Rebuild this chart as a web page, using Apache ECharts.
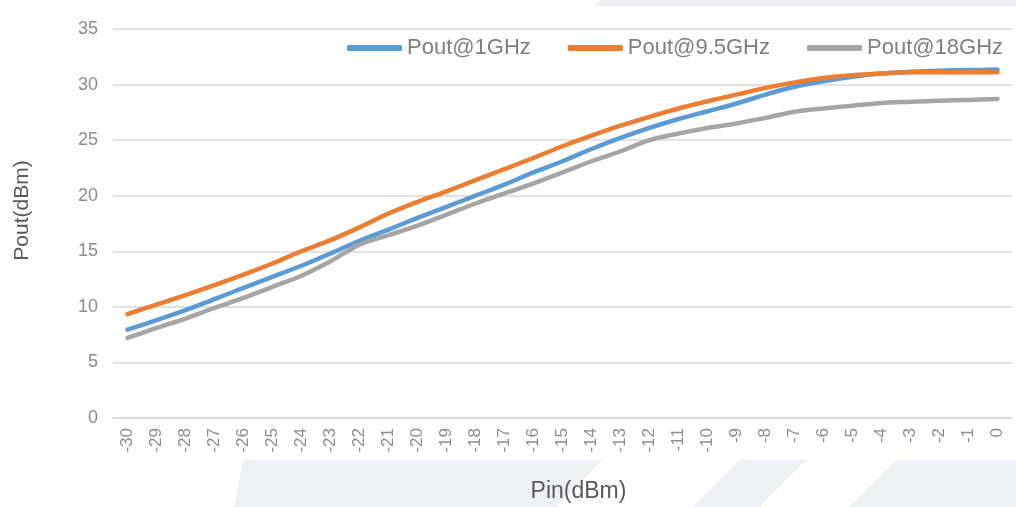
<!DOCTYPE html>
<html>
<head>
<meta charset="utf-8"/>
<title>Pout vs Pin</title>
<script src="https://cdn.jsdelivr.net/npm/echarts@6.0.0/dist/echarts.min.js"></script>
<style>
	html,body{margin:0;padding:0;background:#fff;}
</style>
</head>
	<body>
		<div id="Echarts" style="width: 1016px;height: 507px;"></div>
	</body>
	<script>
		// Pin (dBm)
		var pin = ['-30','-29','-28','-27','-26','-25','-24','-23','-22','-21','-20',
			'-19','-18','-17','-16','-15','-14','-13','-12','-11','-10',
			'-9','-8','-7','-6','-5','-4','-3','-2','-1','0'];
		var yTicks = [0, 5, 10, 15, 20, 25, 30, 35];

		// Pout (dBm)
		var pout1G = [7.95, 8.8, 9.7, 10.7, 11.7, 12.7, 13.7, 14.8, 15.95, 16.95, 18.0,
			19.0, 20.0, 21.0, 22.1, 23.1, 24.2, 25.2, 26.1, 26.9, 27.6,
			28.3, 29.1, 29.8, 30.3, 30.7, 31.0, 31.15, 31.25, 31.3, 31.35];
		var pout9G5 = [9.35, 10.2, 11.05, 11.95, 12.9, 13.9, 15.0, 16.0, 17.15, 18.4, 19.45,
			20.4, 21.4, 22.4, 23.4, 24.45, 25.4, 26.3, 27.1, 27.85, 28.5,
			29.1, 29.7, 30.2, 30.6, 30.85, 31.0, 31.1, 31.1, 31.1, 31.1];
		var pout18G = [7.2, 8.1, 8.95, 9.9, 10.8, 11.8, 12.8, 14.1, 15.6, 16.45, 17.3,
			18.3, 19.3, 20.2, 21.1, 22.1, 23.1, 24.0, 25.0, 25.6, 26.1,
			26.5, 27.0, 27.55, 27.85, 28.1, 28.35, 28.45, 28.55, 28.62, 28.7];

		var names = ['Pout@1GHz', 'Pout@9.5GHz', 'Pout@18GHz'];
		var colors = ['#5b9bd5', '#ed7d31', '#a5a5a5'];
		var font = 'Liberation Sans, Arial, sans-serif';

		function line(name, data, color){
			return {
				name: name,
				type: 'line',
				data: data,
				smooth: 0.3,
				showSymbol: false,
				symbol: 'none',
				color: color,
				lineStyle: {width: 4.5, color: color, cap: 'round', join: 'round'}
			};
		}

		// light watermark bands behind the plot
		var bg = '#eff0f4';
		var bands = [
			[[600,0],[1016,0],[1016,6],[594,6]],
			[[243,460],[603,460],[556,507],[234,507]],
			[[739,460],[807,460],[760,507],[692,507]],
			[[896,460],[1016,460],[1016,507],[849,507]]
		];

		var myChart = echarts.init(document.getElementById('Echarts'));
		myChart.setOption({
			animation: false,
			backgroundColor: '#fff',
			color: colors,
			graphic: bands.map(function(p){
				return {type: 'polygon', z: -10, silent: true, shape: {points: p}, style: {fill: bg}};
			}),
			legend: {
				data: names,
				left: 342,
				top: 32,
				icon: 'roundRect',
				itemWidth: 55,
				itemHeight: 6,
				itemGap: 37,
				textStyle: {fontSize: 22, color: '#7f7f7f', fontFamily: font}
			},
			grid: {
				left: 113,
				right: 4,
				top: 29,
				bottom: 89,
				containLabel: false,
				outerBoundsMode: 'none'
			},
			xAxis: {
				type: 'category',
				data: pin,
				boundaryGap: true,
				name: 'Pin(dBm)',
				nameLocation: 'middle',
				nameGap: 62,
				nameTextStyle: {fontSize: 23, color: '#595959', fontFamily: font, padding: [0, 0, 0, 32]},
				axisLine: {lineStyle: {color: '#d9d9d9', width: 1.5}},
				axisTick: {show: false},
				axisLabel: {
					interval: 0,
					rotate: 90,
					margin: 10,
					fontSize: 17,
					color: '#8c8c8c',
					fontFamily: font
				}
			},
			yAxis: {
				type: 'value',
				min: yTicks[0],
				max: yTicks[yTicks.length - 1],
				interval: 5,
				name: 'Pout(dBm)',
				nameLocation: 'middle',
				nameGap: 80,
				nameTextStyle: {fontSize: 21, color: '#595959', fontFamily: font, padding: [0, 0, 0, 26]},
				axisLine: {show: false},
				axisTick: {show: false},
				axisLabel: {margin: 15, fontSize: 18, color: '#8c8c8c', fontFamily: font},
				splitLine: {lineStyle: {color: '#d9d9d9', width: 1.5}}
			},
			series: [
				line(names[0], pout1G, colors[0]),
				line(names[1], pout9G5, colors[1]),
				line(names[2], pout18G, colors[2])
			]
		});
	</script>
</html>
